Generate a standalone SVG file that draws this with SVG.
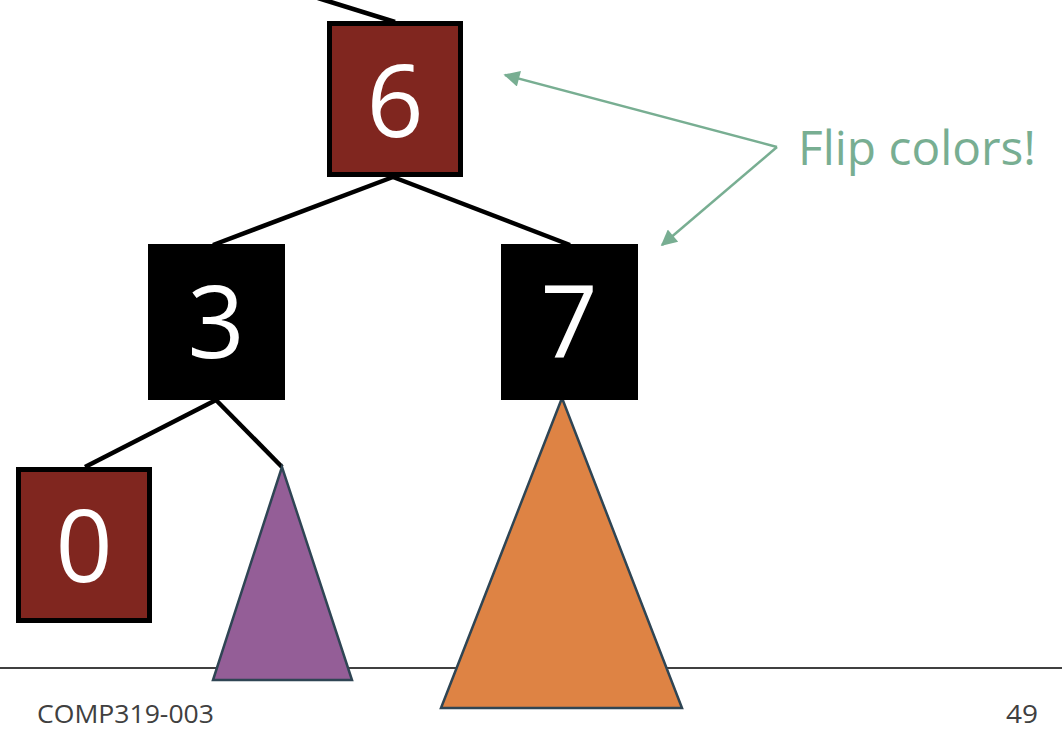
<svg xmlns="http://www.w3.org/2000/svg" width="1062" height="730" viewBox="0 0 1062 730">
<defs>
<style>
.edge{stroke:#000;stroke-width:4.5;fill:none}
.red{fill:#80261f;stroke:#000;stroke-width:5}
.blk{fill:#000;stroke:#000;stroke-width:1}
.digit{font-family:"Open Sans",sans-serif;font-size:100px;fill:#fff;text-anchor:middle}
.tri{stroke:#2f4554;stroke-width:2.5;stroke-linejoin:miter}
.ann{stroke:#78ae92;stroke-width:2.5;fill:none}
.foot{font-family:"Open Sans",sans-serif;font-size:25px;fill:#404040}
</style>
<marker id="ah" viewBox="0 0 10 10" refX="9" refY="5" markerWidth="19" markerHeight="16" markerUnits="userSpaceOnUse" orient="auto">
<path d="M0,0 L10,5 L0,10 z" fill="#78ae92"/>
</marker>
</defs>
<rect width="1062" height="730" fill="#fff"/>
<line x1="0" y1="668" x2="1062" y2="668" stroke="#000" stroke-width="1.5"/>
<g id="connectors">
<line class="edge" x1="318" y1="-2" x2="395" y2="22"/>
<line class="edge" x1="393" y1="177" x2="213" y2="245"/>
<line class="edge" x1="393" y1="177" x2="570" y2="245"/>
<line class="edge" x1="216" y1="400" x2="85" y2="467"/>
<line class="edge" x1="216" y1="400" x2="282" y2="467"/>
</g>
<g id="subtree-purple"><polygon class="tri" points="282,467 213,680 352,680" fill="#945e97"/></g>
<g id="subtree-orange"><polygon class="tri" points="562,398 441,708 682,708" fill="#de8344"/></g>
<g id="node6"><rect class="red" x="329.5" y="23.5" width="131" height="151"/><text class="digit" x="395" y="137">6</text></g>
<g id="node3"><rect class="blk" x="148.5" y="244.5" width="136" height="155"/><text class="digit" x="216" y="358">3</text></g>
<g id="node7"><rect class="blk" x="501.5" y="244.5" width="136" height="155"/><text class="digit" x="569" y="358">7</text></g>
<g id="node0"><rect class="red" x="18.5" y="469.5" width="131" height="151"/><text class="digit" x="84" y="582">0</text></g>
<g id="annotation">
<polyline class="ann" points="777,147 505,75" marker-end="url(#ah)"/>
<polyline class="ann" points="777,147 662,245" marker-end="url(#ah)"/>
<text x="798" y="165" font-family="Open Sans, sans-serif" font-size="48" fill="#78ae92" textLength="238" lengthAdjust="spacingAndGlyphs">Flip colors!</text>
</g>
<text class="foot" x="37" y="723" textLength="177" lengthAdjust="spacingAndGlyphs">COMP319-003</text>
<text class="foot" x="1006" y="723" textLength="32" lengthAdjust="spacingAndGlyphs">49</text>
</svg>
